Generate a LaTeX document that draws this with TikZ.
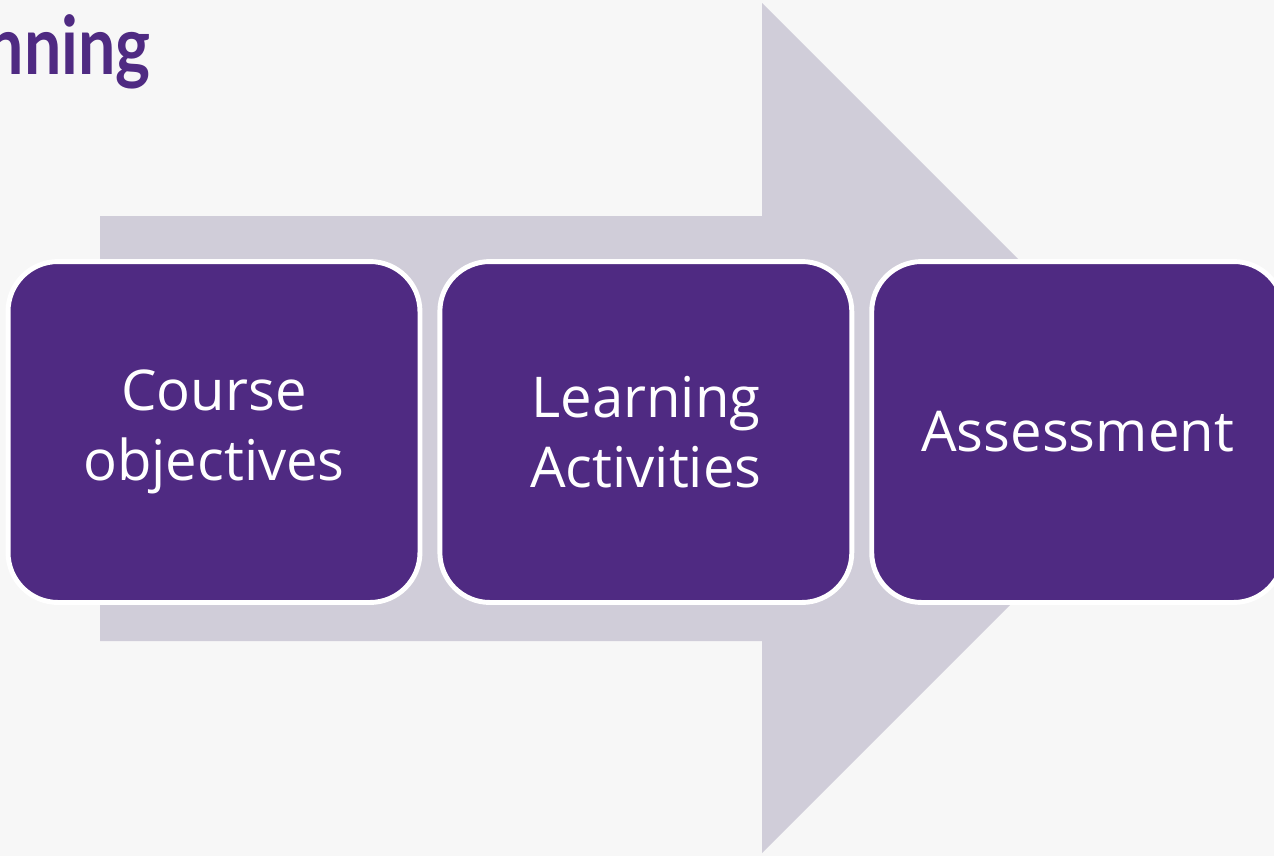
\documentclass[tikz,border=0pt]{standalone}
\usepackage{fontspec}
\setmainfont{Open Sans}
\newfontfamily\titlefont[FakeStretch=0.82]{Lato}
\usetikzlibrary{positioning}
\definecolor{bgcol}{HTML}{F7F7F7}
\definecolor{uwpurple}{HTML}{4F2A82}
\definecolor{arrowgray}{HTML}{D0CDD9}

\begin{document}
\begin{tikzpicture}[x=0.02cm, y=-0.02cm, node distance=0.3cm]
\tikzset{
stage/.style    = {draw=white, line width=2.8pt, fill=uwpurple, rounded corners=1cm, minimum width=8.24cm, minimum height=6.82cm, text=white, align=center, font=\fontsize{32}{40}\selectfont},
title/.style    = {anchor=base east, inner sep=0pt, text=uwpurple, font=\titlefont\bfseries\fontsize{46}{55}\selectfont},
}
    % Background
    \fill [bgcol] (0,0) rectangle (1274,856);
    \clip (0,0) rectangle (1274,856);

    % Arrow
    \fill [arrowgray] (100,216) -- (762,216) -- (762,3) -- (1187,428)
        -- (762,853) -- (762,641) -- (100,641) -- cycle;

    % Title
    \node [title]                       (title)         at (151,74)  {nning};

    % Stage nodes
    \node [stage]                       (objectives)    at (214,432) {Course\\objectives};
    \node [stage, right=of objectives]  (activities)    {Learning\\Activities};
    \node [stage, right=of activities]  (assessment)    {Assessment};

\end{tikzpicture}
\end{document}
